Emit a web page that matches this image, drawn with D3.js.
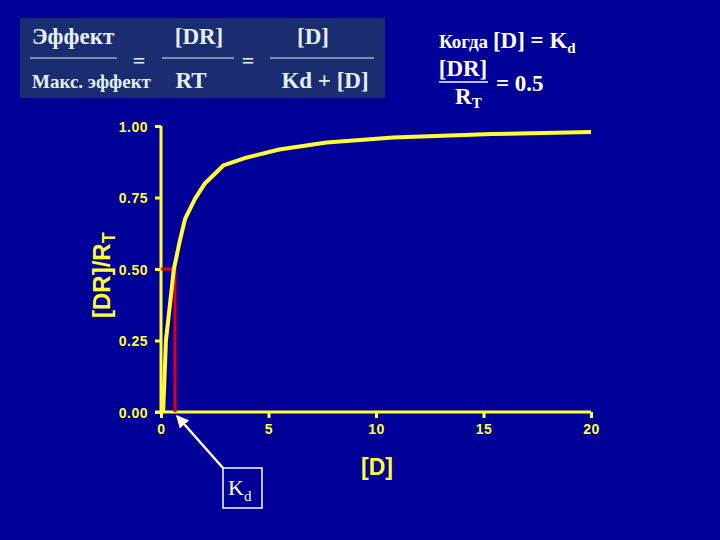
<!DOCTYPE html>
<html>
<head>
<meta charset="utf-8">
<script src="https://cdn.jsdelivr.net/npm/d3@7"></script>
<style>
  body { margin: 0; background: #000099; }
  svg { display: block; }
</style>
</head>
<body>
<svg id="chart" width="720" height="540"></svg>
<script>
// values
var doseValues = [0.1, 0.23, 0.6, 0.88, 1.12, 1.58, 2.05, 2.9, 4.0, 5.5, 7.7, 10.8, 15.4, 20];
var boundValues = [0, 0.25, 0.5, 0.6, 0.675, 0.745, 0.8, 0.862, 0.89, 0.918, 0.942, 0.96, 0.972, 0.979];
var kd = 0.65;
var halfBound = 0.5;
var xTicks = [0, 5, 10, 15, 20];
var yTicks = [0, 0.25, 0.5, 0.75, 1];

var yellow = '#ffff33';
var svg = d3.select('#chart');

svg.append('rect').attr('width', 720).attr('height', 540).attr('fill', '#000099');

var x = d3.scaleLinear().domain([0, 20]).range([161, 591]);
var y = d3.scaleLinear().domain([0, 1]).range([412, 126]);

// axes
var xAxis = svg.append('g').attr('transform', 'translate(0,412)')
  .call(d3.axisBottom(x).tickValues(xTicks).tickSize(6).tickPadding(6).tickFormat(d3.format('d')));
var yAxis = svg.append('g').attr('transform', 'translate(161,0)')
  .call(d3.axisLeft(y).tickValues(yTicks).tickSize(6).tickPadding(7).tickFormat(d3.format('.2f')));

[xAxis, yAxis].forEach(function(g) {
  g.select('.domain').attr('stroke', yellow).attr('stroke-width', 3)
   .attr('d', g === xAxis ? 'M155,0H591' : 'M0,412V126');
  g.selectAll('.tick line').attr('stroke', yellow).attr('stroke-width', 3);
  g.selectAll('.tick text')
    .attr('fill', yellow)
    .style('font', 'bold 14px "Liberation Sans", Arial, sans-serif')
    .style('letter-spacing', '0.5px');
});
yAxis.selectAll('.tick text').attr('dy', '0.36em');

// axis titles
svg.append('text').attr('x', x(10) + 1).attr('y', 475)
  .attr('text-anchor', 'middle').attr('fill', yellow)
  .style('font', 'bold 23px "Liberation Sans", Arial, sans-serif')
  .text('[D]');

var yl = svg.append('text')
  .attr('transform', 'translate(110,318) rotate(-90)')
  .attr('fill', yellow)
  .style('font', 'bold 24px "Liberation Sans", Arial, sans-serif');
yl.append('tspan').text('[DR]/R');
yl.append('tspan').attr('dy', 5).style('font-size', '18px').text('T');

// red Kd guide
svg.append('path')
  .attr('d', 'M' + x(0) + ',' + y(halfBound) + 'H' + x(kd) + 'V' + y(0))
  .attr('fill', 'none').attr('stroke', '#e00010').attr('stroke-width', 3);

// binding curve
var pts = doseValues.map(function(d, i) { return [d, boundValues[i]]; });
svg.append('path').datum(pts)
  .attr('fill', 'none').attr('stroke', yellow).attr('stroke-width', 4)
  .attr('stroke-linejoin', 'round')
  .attr('d', d3.line().x(function(d) { return x(d[0]); }).y(function(d) { return y(d[1]); }));

// Kd arrow + box
svg.append('defs').append('marker')
  .attr('id', 'ah').attr('viewBox', '0 0 10 10').attr('refX', 9).attr('refY', 5)
  .attr('markerWidth', 5).attr('markerHeight', 5).attr('orient', 'auto')
  .append('path').attr('d', 'M0,0L10,5L0,10z').attr('fill', '#ffffff');
svg.append('line')
  .attr('x1', 223).attr('y1', 468).attr('x2', x(kd) + 2).attr('y2', y(0) + 4)
  .attr('stroke', '#ffffff').attr('stroke-width', 2.5).attr('marker-end', 'url(#ah)');
svg.append('rect').attr('x', 223).attr('y', 468).attr('width', 39).attr('height', 40)
  .attr('fill', 'none').attr('stroke', '#ffffff').attr('stroke-width', 1.5);
var kt = svg.append('text').attr('x', 228).attr('y', 495).attr('fill', '#ffffff')
  .style('font', '22px "Liberation Serif", "Times New Roman", serif');
kt.append('tspan').text('K');
kt.append('tspan').attr('dy', 6).style('font-size', '15px').text('d');

// formula box
var serif = '"Liberation Serif", "Times New Roman", serif';
var fcol = '#e2f0f0';
svg.append('rect').attr('x', 20).attr('y', 18).attr('width', 365).attr('height', 80).attr('fill', '#1c2c70');
function ftext(tx, ty, s, size, anchor) {
  return svg.append('text').attr('x', tx).attr('y', ty).attr('fill', fcol)
    .attr('text-anchor', anchor || 'start')
    .style('font', 'bold ' + size + 'px ' + serif).text(s);
}
ftext(32, 44, 'Эффект', 23);
ftext(32, 88, 'Макс. эффект', 19);
ftext(199, 44, '[DR]', 23, 'middle');
ftext(191, 88, 'RT', 23, 'middle');
ftext(313, 44, '[D]', 23, 'middle');
ftext(325, 88, 'Kd + [D]', 23, 'middle');
ftext(139, 68, '=', 22, 'middle');
ftext(248, 68, '=', 22, 'middle');
[[30, 117], [162, 234], [270, 374]].forEach(function(s) {
  svg.append('line').attr('x1', s[0]).attr('x2', s[1]).attr('y1', 58).attr('y2', 58)
    .attr('stroke', fcol).attr('stroke-width', 1.2);
});

// right note
var w = '#ffffff';
var t1 = svg.append('text').attr('x', 439).attr('y', 48).attr('fill', w)
  .style('font', 'bold 23px ' + serif);
t1.append('tspan').style('font-size', '19px').text('Когда ');
t1.append('tspan').text('[D] = K');
t1.append('tspan').attr('dy', 5).style('font-size', '15px').text('d');
svg.append('text').attr('x', 463).attr('y', 76).attr('fill', w).attr('text-anchor', 'middle')
  .style('font', 'bold 23px ' + serif).text('[DR]');
svg.append('line').attr('x1', 439).attr('x2', 488).attr('y1', 82).attr('y2', 82)
  .attr('stroke', w).attr('stroke-width', 1.5);
svg.append('text').attr('x', 496).attr('y', 91).attr('fill', w)
  .style('font', 'bold 23px ' + serif).text('= 0.5');
var t3 = svg.append('text').attr('x', 455).attr('y', 104).attr('fill', w)
  .style('font', 'bold 23px ' + serif);
t3.append('tspan').text('R');
t3.append('tspan').attr('dy', 4).style('font-size', '15px').text('T');
</script>
</body>
</html>
